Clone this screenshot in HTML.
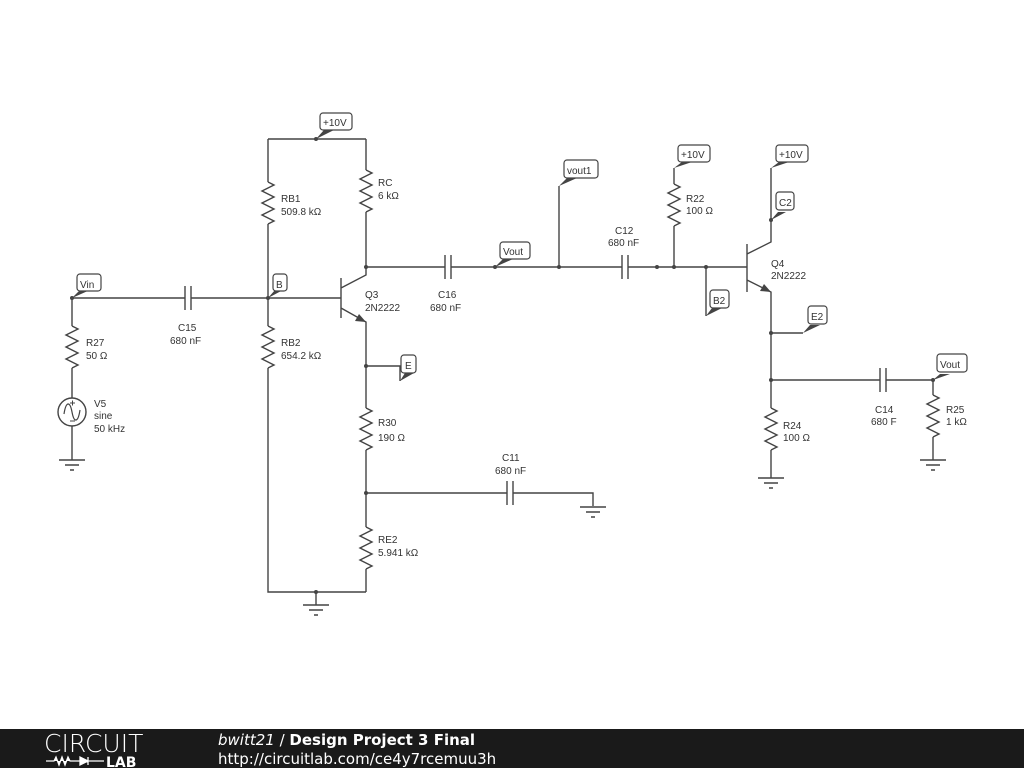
<!DOCTYPE html>
<html><head><meta charset="utf-8"><style>
html,body{margin:0;padding:0;background:#fff;width:1024px;height:768px;overflow:hidden}
svg{display:block}
text{font-family:"Liberation Sans",Arial,sans-serif;font-size:10px;fill:#333}
.l{font-size:10px;fill:#333}
</style></head><body>
<svg width="1024" height="768" viewBox="0 0 1024 768" xmlns="http://www.w3.org/2000/svg">
<defs>
<g id="res"><path d="M0 0 L6 3 L-6 9 L6 15 L-6 21 L6 27 L-6 33 L6 39 L0 42" fill="none" stroke="#444" stroke-width="1.4"/></g>
<g id="gnd"><path d="M-13 0 H13 M-7 5 H7 M-2 10 H2" stroke="#444" stroke-width="1.4"/></g>
</defs>
<g stroke="#444" stroke-width="1.4" fill="none">
<path d="M268 139 H366 M268 139 V182 M268 224 V326 M268 368 V592 H366"/>
<path d="M366 139 V170 M366 212 V267"/>
<path d="M72 298 H185 M191 298 H341 M72 298 V326 M72 368 V398 M72 426 V460"/>
<path d="M185 286 V310 M191 286 V310"/>
<path d="M341 278 V318 M341 288 L366 275 V267 M341 308 L366 322 V408 M366 450 V527 M366 569 V592"/>
<path d="M366 366 H400 V381"/>
<path d="M366 493 H507 M513 493 H593 V506 M507 481 V505 M513 481 V505"/>
<path d="M366 267 H445 M451 267 H622 M628 267 H747 M445 255 V279 M451 255 V279 M622 255 V279 M628 255 V279"/>
<path d="M559 267 V186"/>
<path d="M674 267 V226 M674 184 V168"/>
<path d="M706 267 V316"/>
<path d="M747 244 V292 M747 254 L771 242 V168 M747 280 L771 292 V408 M771 450 V478"/>
<path d="M771 333 H803"/>
<path d="M771 380 H880 M886 380 H933 V395 M933 437 V460 M880 368 V392 M886 368 V392"/>
<path d="M316 592 V605"/>
</g>
<polygon points="366,322 355,321 359,314" fill="#444"/>
<polygon points="771,292 760,291 764,284" fill="#444"/>
<use href="#res" x="268" y="182"/>
<use href="#res" x="366" y="170"/>
<use href="#res" x="268" y="326"/>
<use href="#res" x="72" y="326"/>
<use href="#res" x="366" y="408"/>
<use href="#res" x="366" y="527"/>
<use href="#res" x="674" y="184"/>
<use href="#res" x="771" y="408"/>
<use href="#res" x="933" y="395"/>
<use href="#gnd" x="72" y="460"/>
<use href="#gnd" x="316" y="605"/>
<use href="#gnd" x="593" y="507"/>
<use href="#gnd" x="771" y="478"/>
<use href="#gnd" x="933" y="460"/>
<circle cx="72" cy="412" r="14" fill="none" stroke="#444" stroke-width="1.4"/>
<path d="M64 414 C66 401 70 401 72 412 C74 423 78 423 80 410" fill="none" stroke="#444" stroke-width="1.2"/>
<path d="M70 403 H75 M72.5 400.5 V405.5 M70 421 H75" stroke="#444" stroke-width="1"/>
<g fill="#444">
<circle cx="316" cy="139" r="2"/><circle cx="72" cy="298" r="2"/><circle cx="268" cy="298" r="2"/>
<circle cx="366" cy="267" r="2"/><circle cx="366" cy="366" r="2"/><circle cx="366" cy="493" r="2"/>
<circle cx="316" cy="592" r="2"/><circle cx="495" cy="267" r="2"/><circle cx="559" cy="267" r="2"/>
<circle cx="657" cy="267" r="2"/><circle cx="674" cy="267" r="2"/><circle cx="706" cy="267" r="2"/>
<circle cx="771" cy="220" r="2"/><circle cx="771" cy="333" r="2"/><circle cx="771" cy="380" r="2"/>
<circle cx="933" cy="380" r="2"/>
</g>
<g fill="#444">
<polygon points="316,139 324,130 334,130"/>
<polygon points="72,298 80,290 90,290"/>
<polygon points="268,298 275,290 283,290"/>
<polygon points="400,381 405,373 414,373"/>
<polygon points="495,267 503,259 513,259"/>
<polygon points="559,186 567,178 577,178"/>
<polygon points="674,168 682,162 692,162"/>
<polygon points="771,168 779,162 789,162"/>
<polygon points="771,220 778,212 786,212"/>
<polygon points="706,316 712,308 722,308"/>
<polygon points="803,333 810,325 820,325"/>
<polygon points="933,380 940,374 950,374"/>
</g>
<g fill="#fff" stroke="#444" stroke-width="1.2">
<rect x="320" y="113" width="32" height="17" rx="3"/>
<rect x="77" y="274" width="24" height="17" rx="3"/>
<rect x="273" y="274" width="14" height="17" rx="3"/>
<rect x="401" y="355" width="15" height="18" rx="3"/>
<rect x="500" y="242" width="30" height="17" rx="3"/>
<rect x="564" y="160" width="34" height="18" rx="3"/>
<rect x="678" y="145" width="32" height="17" rx="3"/>
<rect x="776" y="145" width="32" height="17" rx="3"/>
<rect x="776" y="192" width="18" height="18" rx="3"/>
<rect x="710" y="290" width="19" height="18" rx="3"/>
<rect x="808" y="306" width="19" height="18" rx="3"/>
<rect x="937" y="354" width="30" height="18" rx="3"/>
</g>
<g class="l">
<text x="323" y="126">+10V</text>
<text x="80" y="288">Vin</text>
<text x="276" y="288">B</text>
<text x="405" y="369">E</text>
<text x="503" y="255">Vout</text>
<text x="567" y="174">vout1</text>
<text x="681" y="158">+10V</text>
<text x="779" y="158">+10V</text>
<text x="779" y="206">C2</text>
<text x="713" y="304">B2</text>
<text x="811" y="320">E2</text>
<text x="940" y="368">Vout</text>
<text x="281" y="202">RB1</text><text x="281" y="215">509.8 kΩ</text>
<text x="378" y="186">RC</text><text x="378" y="199">6 kΩ</text>
<text x="86" y="346">R27</text><text x="86" y="359">50 Ω</text>
<text x="94" y="407">V5</text><text x="94" y="419">sine</text><text x="94" y="432">50 kHz</text>
<text x="178" y="331">C15</text><text x="170" y="344">680 nF</text>
<text x="281" y="346">RB2</text><text x="281" y="359">654.2 kΩ</text>
<text x="365" y="298">Q3</text><text x="365" y="311">2N2222</text>
<text x="438" y="298">C16</text><text x="430" y="311">680 nF</text>
<text x="378" y="426">R30</text><text x="378" y="441">190 Ω</text>
<text x="502" y="461">C11</text><text x="495" y="474">680 nF</text>
<text x="378" y="543">RE2</text><text x="378" y="556">5.941 kΩ</text>
<text x="615" y="234">C12</text><text x="608" y="246">680 nF</text>
<text x="686" y="202">R22</text><text x="686" y="214">100 Ω</text>
<text x="771" y="267">Q4</text><text x="771" y="279">2N2222</text>
<text x="783" y="429">R24</text><text x="783" y="441">100 Ω</text>
<text x="875" y="413">C14</text><text x="871" y="425">680 F</text>
<text x="946" y="413">R25</text><text x="946" y="425">1 kΩ</text>
</g>
<rect x="0" y="729" width="1024" height="39" fill="#1a1a1a"/>
<text x="44" y="752" style="font-size:25px;fill:#fff;font-family:'DejaVu Sans',sans-serif;font-weight:200">CIRCUIT</text>
<path d="M46 761 H54 L56 757 L59 765 L62 757 L65 765 L68 757 L70 761 H80 M80 757 V765 L88 761 Z M88 757 V765 M88 761 H104" stroke="#fff" stroke-width="1.3" fill="#fff"/>
<text x="106" y="767" style="font-size:14px;fill:#fff;font-weight:bold;font-family:'DejaVu Sans',sans-serif">LAB</text>
<text x="218" y="745" style="font-size:15px;fill:#fff;font-family:'DejaVu Sans',sans-serif"><tspan font-style="italic">bwitt21</tspan> / <tspan font-weight="bold">Design Project 3 Final</tspan></text>
<text x="218" y="764" style="font-size:15px;fill:#fff;font-family:'DejaVu Sans',sans-serif">http://circuitlab.com/ce4y7rcemuu3h</text>
</svg>
</body></html>
